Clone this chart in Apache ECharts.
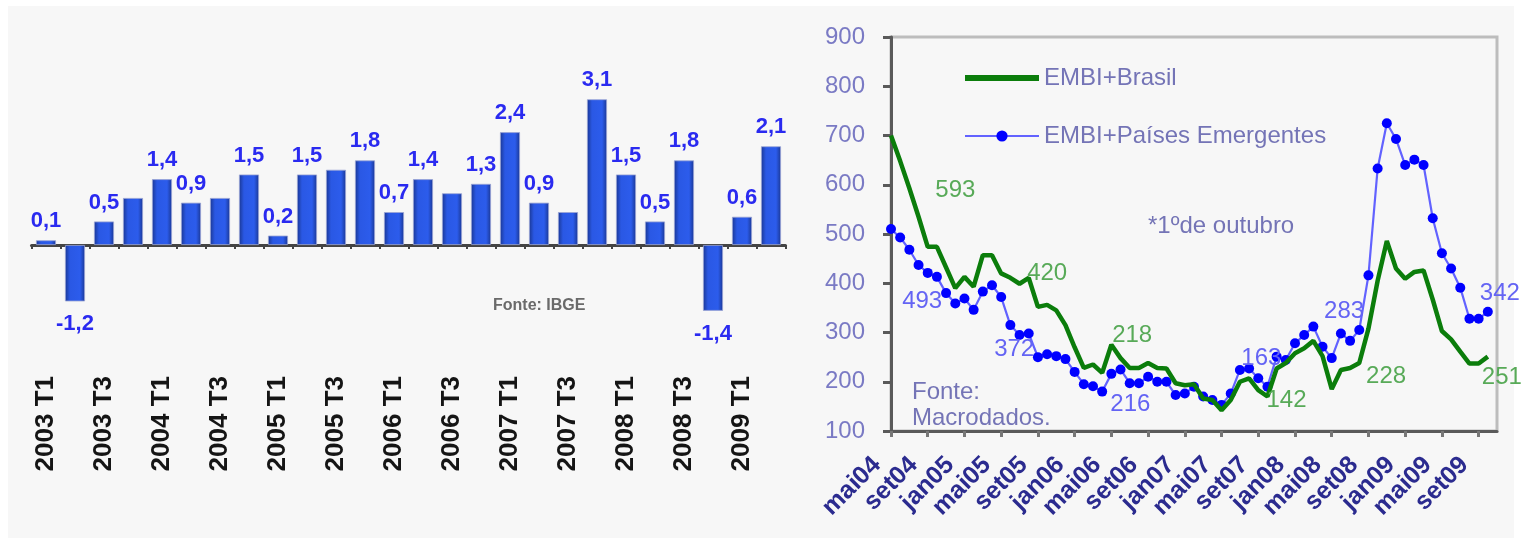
<!DOCTYPE html>
<html>
<head>
<meta charset="utf-8">
<script src="https://cdn.jsdelivr.net/npm/echarts@6/dist/echarts.min.js"></script>
<style>
  html, body { margin: 0; padding: 0; background: #ffffff; }
  #chart { width: 1522px; height: 541px; }
</style>
</head>
<body>
<div id="chart"></div>
<script>
// PIB trimestral: variação (%) sobre o trimestre anterior
const quarters = [
  '2003 T1', '2003 T2', '2003 T3', '2003 T4',
  '2004 T1', '2004 T2', '2004 T3', '2004 T4',
  '2005 T1', '2005 T2', '2005 T3', '2005 T4',
  '2006 T1', '2006 T2', '2006 T3', '2006 T4',
  '2007 T1', '2007 T2', '2007 T3', '2007 T4',
  '2008 T1', '2008 T2', '2008 T3', '2008 T4',
  '2009 T1', '2009 T2'
];
const gdpGrowth = [
  0.1, -1.2, 0.5, 1.0,
  1.4, 0.9, 1.0, 1.5,
  0.2, 1.5, 1.6, 1.8,
  0.7, 1.4, 1.1, 1.3,
  2.4, 0.9, 0.7, 3.1,
  1.5, 0.5, 1.8, -1.4,
  0.6, 2.1
];
// quarters drawn without a value label
const unlabeledQuarters = ['2003 T4', '2004 T3', '2005 T3', '2006 T3', '2007 T3'];

// EMBI+ spreads (pontos-base), mensal
const months = [
  'mai/04', 'jun/04', 'jul/04', 'ago/04', 'set/04', 'out/04', 'nov/04', 'dez/04',
  'jan/05', 'fev/05', 'mar/05', 'abr/05', 'mai/05', 'jun/05', 'jul/05', 'ago/05',
  'set/05', 'out/05', 'nov/05', 'dez/05', 'jan/06', 'fev/06', 'mar/06', 'abr/06',
  'mai/06', 'jun/06', 'jul/06', 'ago/06', 'set/06', 'out/06', 'nov/06', 'dez/06',
  'jan/07', 'fev/07', 'mar/07', 'abr/07', 'mai/07', 'jun/07', 'jul/07', 'ago/07',
  'set/07', 'out/07', 'nov/07', 'dez/07', 'jan/08', 'fev/08', 'mar/08', 'abr/08',
  'mai/08', 'jun/08', 'jul/08', 'ago/08', 'set/08', 'out/08', 'nov/08', 'dez/08',
  'jan/09', 'fev/09', 'mar/09', 'abr/09', 'mai/09', 'jun/09', 'jul/09', 'ago/09',
  'set/09', 'out/09', 'nov/09'
];
const embiBrasil = [
  700, 648, 593, 535, 474, 474, 432, 390, 413, 393, 457, 457,
  420, 411, 399, 411, 352, 356, 345, 315, 270, 228, 235, 218,
  275, 248, 228, 228, 238, 228, 227, 197, 193, 195, 166, 163,
  142, 163, 200, 207, 183, 170, 227, 238, 258, 268, 283, 252,
  185, 224, 228, 238, 308, 405, 486, 430, 409, 423, 426, 367,
  303, 286, 261, 237, 237, 251
];
const embiEmergentes = [
  510, 493, 468, 437, 421, 413, 380, 359, 369, 346, 383, 396,
  372, 315, 295, 298, 250, 256, 252, 246, 220, 195, 191, 180,
  216, 225, 197, 197, 210, 200, 200, 173, 176, 190, 170, 163,
  153, 176, 224, 227, 207, 190, 251, 244, 278, 295, 312, 271,
  248, 298, 283, 305, 416, 633, 725, 693, 640, 651, 640, 532,
  461, 430, 391, 328, 328, 342
];
// months whose value is written next to the line
const brasilCallouts = ['jul/04', 'mai/05', 'abr/06', 'mai/07', 'jul/08', 'out/09'];
const emergentesCallouts = ['jun/04', 'mai/05', 'mai/06', 'abr/07', 'jul/08', 'out/09'];
const yTicks = [100, 900, 100]; // min, max, step

// where each callout sits relative to its point (px)
const brasilOffsets = {
  'jul/04': [46, 2], 'mai/05': [46, 0], 'abr/06': [30, -38],
  'mai/07': [65, -10], 'jul/08': [36, 8], 'out/09': [14, 21]
};
const emergentesOffsets = {
  'jun/04': [22, 64], 'mai/05': [13, 52], 'mai/06': [19, 31],
  'abr/07': [49, -42], 'jul/08': [-6, -29], 'out/09': [12, -18]
};

const FONT = '"Liberation Sans", Arial, sans-serif';
const commaFmt = v => v.toFixed(1).replace('.', ',');

const barGradient = new echarts.graphic.LinearGradient(0, 0, 1, 0, [
  { offset: 0, color: '#1a3793' },
  { offset: 0.25, color: '#2a58e4' },
  { offset: 0.75, color: '#2c5cec' },
  { offset: 1, color: '#1a3793' }
]);

const barData = gdpGrowth.map((v, i) => {
  const hide = unlabeledQuarters.indexOf(quarters[i]) >= 0;
  return {
    value: v,
    label: {
      show: !hide,
      position: v < 0 ? 'bottom' : 'top',
      distance: v < 0 ? 12 : 8
    }
  };
});

function calloutData(values, callouts, offsets, color, hidden) {
  return values.map((v, i) => {
    const m = months[i];
    if (callouts.indexOf(m) < 0) return v;
    const item = {
      value: v,
      label: {
        show: true,
        position: 'inside',
        offset: offsets[m],
        color: color,
        fontFamily: FONT,
        fontSize: 24,
        formatter: '{c}'
      }
    };
    if (hidden) {
      item.symbol = 'circle';
      item.symbolSize = 1;
      item.itemStyle = { color: 'rgba(0,0,0,0)' };
    }
    return item;
  });
}

const chart = echarts.init(document.getElementById('chart'), null, { renderer: 'canvas' });

chart.setOption({
  backgroundColor: '#ffffff',
  animation: false,
  textStyle: { fontFamily: FONT },
  graphic: [
    { type: 'rect', z: -10, shape: { x: 8, y: 6, width: 1506, height: 532 }, style: { fill: '#f7f7f7' } },
    { type: 'text', left: 493, top: 298, style: { text: 'Fonte: IBGE', fill: '#6a6a6a', font: 'bold 16px ' + FONT } },
    { type: 'text', left: 1148, top: 214, style: { text: '*1ºde outubro', fill: '#7474b6', font: '24px ' + FONT } },
    { type: 'text', left: 912, top: 380, style: { text: 'Fonte:', fill: '#7474b6', font: '24px ' + FONT } },
    { type: 'text', left: 912, top: 406, style: { text: 'Macrodados.', fill: '#7474b6', font: '24px ' + FONT } }
  ],
  legend: {
    orient: 'vertical',
    left: 962,
    top: 66,
    padding: 0,
    itemWidth: 74,
    itemHeight: 14,
    itemGap: 34,
    data: [
      { name: 'EMBI+Brasil', itemStyle: { opacity: 0 }, lineStyle: { width: 6, color: '#0b7d0b' } },
      { name: 'EMBI+Países Emergentes' }
    ],
    textStyle: { color: '#7474b6', fontSize: 24, fontFamily: FONT, lineHeight: 14 }
  },
  grid: [
    { left: 31.5, top: 57, width: 754, height: 282, show: false },
    { left: 891, top: 37, width: 606, height: 394, show: true,
      borderColor: '#bdbdbd', borderWidth: 3, backgroundColor: 'transparent' }
  ],
  xAxis: [
    {
      gridIndex: 0, type: 'category', data: quarters,
      axisLine: { onZero: true, lineStyle: { color: '#444444', width: 3 } },
      axisTick: { show: true, interval: 0, length: 4, lineStyle: { color: '#444444', width: 2 } },
      axisLabel: { show: false }
    },
    {
      gridIndex: 0, type: 'category', data: quarters, position: 'bottom',
      axisLine: { show: false }, axisTick: { show: false },
      axisLabel: {
        interval: 1, rotate: 90, margin: 37,
        color: '#151515', fontSize: 26, fontWeight: 'bold', fontFamily: FONT
      }
    },
    {
      gridIndex: 1, type: 'category', data: months, boundaryGap: false,
      axisLine: { lineStyle: { color: '#5a5a5a', width: 3 } },
      axisTick: { show: true, interval: 3, length: 6, lineStyle: { color: '#777777', width: 3 } },
      axisLabel: {
        interval: 3, rotate: 45, margin: 16, padding: [0, 20, 0, 0],
        color: '#2b2b8f', fontSize: 25, fontWeight: 'bold', fontFamily: FONT,
        formatter: v => v.replace('/', '')
      }
    }
  ],
  yAxis: [
    { gridIndex: 0, type: 'value', min: -2, max: 4, show: false, splitLine: { show: false } },
    {
      gridIndex: 1, type: 'value', min: yTicks[0], max: yTicks[1], interval: yTicks[2],
      axisLine: { show: true, lineStyle: { color: '#5a5a5a', width: 3 } },
      axisTick: { show: true, length: 8, lineStyle: { color: '#5a5a5a', width: 3 } },
      axisLabel: { margin: 26, color: '#7a7ac4', fontSize: 24, fontFamily: FONT },
      splitLine: { show: false }
    }
  ],
  series: [
    {
      name: 'PIB', type: 'bar', xAxisIndex: 0, yAxisIndex: 0,
      data: barData, barWidth: 20,
      itemStyle: { color: barGradient, borderColor: '#9aa4d4', borderWidth: 0.8 },
      label: {
        color: '#2a2af0', fontSize: 22, fontWeight: 'bold', fontFamily: FONT,
        formatter: p => commaFmt(p.value)
      }
    },
    {
      name: 'EMBI+Brasil', type: 'line', xAxisIndex: 2, yAxisIndex: 1,
      data: calloutData(embiBrasil, brasilCallouts, brasilOffsets, '#58aa58', true),
      symbol: 'none', showSymbol: true, showAllSymbol: true,
      lineStyle: { color: '#0b7d0b', width: 4.5 },
      itemStyle: { color: '#0b7d0b' },
      z: 3
    },
    {
      name: 'EMBI+Países Emergentes', type: 'line', xAxisIndex: 2, yAxisIndex: 1,
      data: calloutData(embiEmergentes, emergentesCallouts, emergentesOffsets, '#6464f4', false),
      symbol: 'circle', symbolSize: 10, showSymbol: true, showAllSymbol: true,
      lineStyle: { color: '#6262ff', width: 2.2 },
      itemStyle: { color: '#0000ff' },
      z: 2
    }
  ]
});
</script>
</body>
</html>
